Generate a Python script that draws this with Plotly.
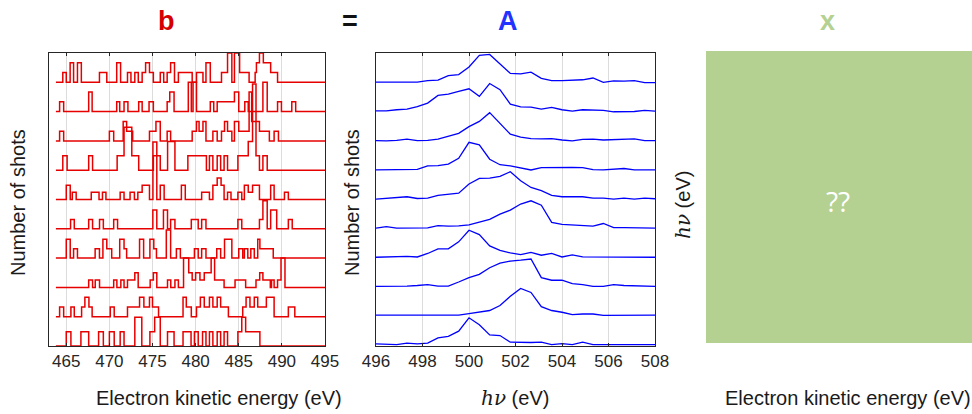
import plotly.graph_objects as go

# ---------------- data: left panel (single-shot spectra, step histograms) ----------------
# step edges (eV) and counts for each shot, row 0 = bottom
b_edges_0 = [463.8, 465.0, 465.54, 466.7, 467.6, 468.75, 469.3, 470.0, 470.56, 471.25, 471.7, 472.95, 473.76, 474.7, 475.25, 475.9, 476.74, 477.5, 478.54, 479.47, 479.86, 480.3, 480.8, 481.2, 481.6, 482.0, 482.5, 482.9, 483.3, 483.7, 484.9, 485.35, 485.8, 487.45]
b_counts_0 = [0, 1, 0, 1, 0, 1, 0, 1, 0, 1, 0, 2, 0, 1, 2, 0, 1, 0, 1, 0, 1, 0, 1, 0, 1, 0, 1, 0, 1, 0, 1, 2, 1, 0]

b_edges_1 = [463.8, 464.23, 464.7, 465.54, 465.93, 466.78, 467.16, 467.63, 468.0, 470.1, 470.56, 472.1, 473.5, 474.0, 474.65, 475.0, 475.7, 478.54, 478.92, 479.5, 480.1, 480.55, 481.0, 481.6, 482.0, 482.5, 482.9, 483.8, 485.46, 485.85, 486.3, 486.8, 487.2, 488.2, 489.1, 490.75, 491.5]
b_counts_1 = [0, 1, 0, 1, 0, 1, 2, 1, 0, 1, 0, 1, 2, 1, 2, 1, 0, 2, 1, 0, 1, 2, 1, 2, 1, 2, 1, 0, 1, 2, 1, 2, 1, 2, 0, 1, 0]

b_edges_2 = [463.8, 467.6, 468.05, 468.36, 468.86, 470.5, 470.87, 471.33, 471.7, 472.1, 472.95, 473.34, 474.73, 475.1, 475.5, 476.74, 477.12, 477.6, 478.0, 478.6, 479.2, 479.6, 480.0, 480.5, 481.0, 481.8, 482.2, 483.3, 484.57, 485.8, 487.0, 487.43, 487.8, 488.66, 488.8, 489.1, 489.5, 489.9, 490.36]
b_counts_2 = [0, 1, 0, 1, 0, 1, 0, 1, 0, 1, 2, 0, 1, 2, 0, 1, 0, 1, 0, 4, 2, 1, 2, 1, 2, 4, 1, 0, 1, 0, 1, 2, 1, 0, 1, 0, 1, 4, 0]

b_edges_3 = [463.8, 465.0, 465.46, 465.85, 466.3, 468.35, 468.85, 469.25, 469.7, 470.27, 471.2, 471.7, 472.0, 473.5, 473.97, 474.7, 475.15, 475.46, 476.6, 477.1, 477.77, 478.23, 479.86, 480.3, 480.7, 481.2, 482.45, 482.9, 483.35, 484.2, 485.0, 485.46, 485.65, 486.05, 486.4, 486.8, 487.2, 487.45, 489.0]
b_counts_3 = [0, 2, 0, 1, 0, 1, 0, 2, 1, 0, 2, 1, 0, 2, 0, 2, 1, 0, 3, 0, 1, 0, 1, 0, 1, 0, 1, 0, 2, 0, 1, 0, 1, 0, 1, 0, 2, 1, 0]

b_edges_4 = [463.8, 465.5, 465.93, 467.6, 468.05, 468.86, 469.3, 470.5, 470.95, 475.04, 475.5, 476.27, 476.74, 477.1, 477.6, 479.5, 480.3, 480.7, 481.2, 484.9, 485.35, 487.4, 487.8, 488.3, 488.7, 489.4, 490.75, 491.2]
b_counts_4 = [0, 1, 0, 1, 0, 1, 0, 1, 0, 2, 0, 2, 0, 1, 0, 1, 0, 1, 0, 1, 0, 1, 3, 0, 2, 0, 1, 0]

b_edges_5 = [463.8, 465.0, 465.46, 465.7, 466.15, 467.9, 468.8, 469.2, 469.6, 471.25, 471.7, 472.4, 472.9, 473.3, 473.8, 474.65, 475.05, 475.5, 475.9, 476.35, 478.35, 478.8, 480.7, 481.6, 482.0, 482.5, 482.95, 483.3, 483.7, 484.1, 484.9, 485.35, 485.65, 486.1, 486.6, 487.4, 488.7, 489.1, 490.3, 490.75]
b_counts_5 = [0, 2, 0, 1, 0, 1, 0, 1, 0, 1, 0, 1, 0, 1, 2, 0, 8, 0, 2, 0, 2, 0, 1, 0, 2, 3, 2, 0, 1, 0, 1, 0, 2, 1, 2, 0, 2, 0, 1, 0]

b_edges_6 = [463.8, 464.6, 465.1, 467.6, 468.05, 470.9, 471.7, 472.6, 473.4, 475.1, 475.9, 476.75, 477.6, 479.1, 481.25, 481.6, 482.0, 482.5, 482.9, 483.3, 483.7, 484.9, 486.1, 486.6, 487.0, 487.4, 487.8, 488.3]
b_counts_6 = [0, 1, 0, 1, 0, 1, 3, 1, 0, 1, 0, 2, 0, 1, 0, 1, 0, 1, 0, 1, 0, 1, 2, 6, 1, 0, 1, 0]

b_edges_7 = [463.8, 464.23, 464.7, 470.0, 470.5, 471.6, 472.0, 472.7, 474.65, 475.4, 475.9, 476.7, 477.1, 479.6, 480.1, 480.4, 480.85, 481.2, 482.0, 482.5, 483.0, 483.35, 483.7, 484.2, 484.5, 485.0, 486.2, 486.5, 487.4, 488.55, 489.1, 489.6]
b_counts_7 = [0, 1, 0, 1, 0, 2, 1, 0, 1, 2, 0, 1, 0, 1, 2, 1, 2, 0, 1, 0, 1, 2, 1, 0, 2, 1, 5, 2, 1, 0, 1, 0]

b_edges_8 = [463.8, 464.23, 464.7, 467.6, 468.0, 470.85, 471.2, 471.7, 472.15, 473.4, 473.8, 474.6, 475.1, 476.7, 477.0, 477.5, 479.15, 479.5, 479.7, 480.1, 481.7, 482.1, 482.5, 484.5, 485.0, 485.7, 486.1, 487.8, 488.3, 489.5, 489.95, 491.15, 491.6]
b_counts_8 = [0, 1, 0, 2, 0, 1, 0, 1, 0, 1, 0, 1, 0, 1, 2, 0, 3, 0, 3, 0, 1, 0, 1, 2, 0, 1, 0, 3, 0, 1, 0, 1, 0]

b_edges_9 = [463.8, 464.6, 465.0, 465.45, 465.85, 466.3, 466.75, 468.85, 469.7, 470.85, 471.3, 472.1, 472.5, 472.95, 473.35, 473.8, 474.2, 474.65, 475.1, 475.9, 476.3, 476.7, 477.1, 477.55, 478.0, 479.6, 480.1, 480.85, 481.2, 481.7, 483.0, 483.7, 484.2, 484.5, 485.1, 486.2, 486.9, 487.05, 487.4, 487.85, 488.7, 489.5]
b_counts_9 = [0, 1, 0, 2, 0, 2, 0, 1, 0, 2, 0, 1, 0, 1, 0, 1, 2, 1, 0, 1, 0, 1, 2, 0, 1, 0, 1, 0, 2, 0, 1, 3, 0, 3, 1, 0, 1, 2, 3, 2, 1, 0]

# per-shot normalisation (row heights per count)
b_norm = [0.49, 0.33, 0.25, 0.32, 0.32, 0.245, 0.49, 0.333, 0.333, 0.333]
ke_end = 495.0

b_edges = [b_edges_0, b_edges_1, b_edges_2, b_edges_3, b_edges_4,
           b_edges_5, b_edges_6, b_edges_7, b_edges_8, b_edges_9]
b_counts = [b_counts_0, b_counts_1, b_counts_2, b_counts_3, b_counts_4,
            b_counts_5, b_counts_6, b_counts_7, b_counts_8, b_counts_9]

# ---------------- data: middle panel (photon spectra) ----------------
hv = [496 + i * 12 / 27 for i in range(28)]
A_0 = [0.02, 0.00, 0.00, 0.05, 0.02, 0.05, 0.23, 0.28, 0.46, 0.92, 0.68, 0.33, 0.31, 0.08, 0.07, 0.07, 0.08, 0.00, 0.03, 0.00, 0.08, 0.00, 0.00, 0.00, 0.00, 0.00, 0.00, 0.00]
A_1 = [0.01, 0.01, 0.00, 0.00, 0.01, 0.01, 0.01, 0.01, 0.01, 0.06, 0.11, 0.17, 0.34, 0.66, 0.93, 0.79, 0.30, 0.17, 0.11, 0.03, 0.05, 0.05, 0.00, 0.00, 0.00, 0.00, 0.00, 0.01]
A_2 = [0.00, 0.00, 0.00, 0.01, 0.03, 0.06, 0.01, 0.01, 0.15, 0.30, 0.41, 0.64, 0.80, 0.87, 0.90, 0.94, 0.30, 0.21, 0.21, 0.09, 0.06, 0.00, 0.00, 0.06, 0.03, 0.02, 0.00, 0.00]
A_3 = [0.00, 0.01, 0.03, 0.03, 0.01, 0.13, 0.29, 0.29, 0.53, 0.93, 0.78, 0.39, 0.24, 0.15, 0.09, 0.17, 0.07, 0.13, 0.01, 0.08, 0.01, 0.01, 0.00, 0.00, 0.00, 0.00, 0.00, 0.00]
A_4 = [0.00, 0.05, 0.00, 0.00, 0.00, 0.01, 0.09, 0.07, 0.08, 0.11, 0.21, 0.30, 0.48, 0.62, 0.83, 0.94, 0.79, 0.20, 0.13, 0.11, 0.09, 0.07, 0.16, 0.02, 0.02, 0.02, 0.01, 0.00]
A_5 = [0.00, 0.02, 0.06, 0.08, 0.02, 0.03, 0.13, 0.16, 0.20, 0.52, 0.71, 0.72, 0.78, 0.94, 0.63, 0.40, 0.29, 0.13, 0.08, 0.08, 0.08, 0.03, 0.03, 0.00, 0.03, 0.00, 0.03, 0.01]
A_6 = [0.00, 0.00, 0.00, 0.00, 0.02, 0.14, 0.15, 0.20, 0.40, 0.95, 0.86, 0.37, 0.18, 0.14, 0.06, 0.00, 0.08, 0.09, 0.09, 0.09, 0.08, 0.01, 0.00, 0.02, 0.05, 0.00, 0.00, 0.00]
A_7 = [0.01, 0.00, 0.02, 0.06, 0.01, 0.02, 0.06, 0.15, 0.26, 0.49, 0.67, 0.97, 0.61, 0.23, 0.13, 0.08, 0.07, 0.08, 0.03, 0.00, 0.05, 0.06, 0.03, 0.05, 0.05, 0.07, 0.01, 0.01]
A_8 = [0.03, 0.03, 0.07, 0.09, 0.18, 0.30, 0.56, 0.61, 0.70, 0.79, 0.53, 0.97, 0.76, 0.26, 0.17, 0.16, 0.09, 0.15, 0.07, 0.02, 0.07, 0.06, 0.05, 0.00, 0.01, 0.01, 0.05, 0.02]
A_9 = [0.02, 0.02, 0.01, 0.01, 0.02, 0.07, 0.09, 0.24, 0.28, 0.54, 0.94, 0.97, 0.63, 0.32, 0.30, 0.36, 0.15, 0.07, 0.07, 0.09, 0.10, 0.16, 0.01, 0.06, 0.05, 0.07, 0.00, 0.00]
A_rows = [A_0, A_1, A_2, A_3, A_4, A_5, A_6, A_7, A_8, A_9]

ke_ticks = [465, 470, 475, 480, 485, 490, 495]
hv_ticks = [496, 498, 500, 502, 504, 506, 508]

# ---------------- figure ----------------
W, H = 972, 414
RED = "rgb(230,0,0)"
BLUE = "rgb(0,0,255)"
GREEN = "#b4d192"
FRAME = "#262626"
FONT = "Liberation Sans, Arial, sans-serif"

fig = go.Figure()

for r in range(10):
    xs = list(b_edges[r]) + [ke_end]
    ys = [r + c * b_norm[r] for c in b_counts[r]]
    ys = ys + [ys[-1]]
    fig.add_trace(go.Scatter(x=xs, y=ys, mode="lines", line_shape="hv",
                             line=dict(color=RED, width=1.5),
                             xaxis="x", yaxis="y", showlegend=False, hoverinfo="skip"))

for r in range(10):
    fig.add_trace(go.Scatter(x=hv, y=[r + v for v in A_rows[r]], mode="lines",
                             line=dict(color=BLUE, width=1.3),
                             xaxis="x2", yaxis="y2", showlegend=False, hoverinfo="skip"))

# placeholder trace for the empty third subplot
fig.add_trace(go.Scatter(x=[0, 1], y=[0, 1], mode="markers", marker=dict(opacity=0),
                         xaxis="x3", yaxis="y3", showlegend=False, hoverinfo="skip"))

def px(x):
    return x / W

def py(y):
    return 1 - y / H

ax_common = dict(showline=True, linecolor=FRAME, linewidth=1, mirror="ticks",
                 ticks="inside", ticklen=3, tickcolor=FRAME, zeroline=False,
                 automargin=False,
                 tickfont=dict(family=FONT, size=17, color="#262626"))
yax_common = dict(showticklabels=False, showgrid=False, showline=True, linecolor=FRAME,
                  mirror=True, zeroline=False, ticks="", automargin=False)

fig.update_layout(
    width=W, height=H, margin=dict(l=0, r=0, t=0, b=0, pad=0, autoexpand=False),
    paper_bgcolor="white", plot_bgcolor="rgba(0,0,0,0)",
    xaxis=dict(domain=[px(49), px(325)], range=[463, 495], tickvals=ke_ticks,
               showgrid=True, gridcolor="#dcdcdc", gridwidth=1, anchor="y", **ax_common),
    yaxis=dict(domain=[py(346), py(53)], range=[0, 10], anchor="x", **yax_common),
    xaxis2=dict(domain=[px(376), px(655)], range=[496, 508], tickvals=hv_ticks,
                showgrid=True, gridcolor="#dcdcdc", gridwidth=1, anchor="y2", **ax_common),
    yaxis2=dict(domain=[py(346), py(53)], range=[-0.05, 10.02], anchor="x2", **yax_common),
    xaxis3=dict(domain=[px(706), 1.0], range=[0, 1], visible=False, anchor="y3", automargin=False),
    yaxis3=dict(domain=[py(343), py(51)], range=[0, 1], visible=False, anchor="x3", automargin=False),
)

fig.add_shape(type="rect", xref="x3 domain", yref="y3 domain", x0=0, x1=1, y0=0, y1=1,
              fillcolor=GREEN, line=dict(width=0), layer="below")

def ann(text, x, y, size, color="#1a1a1a", angle=0, bold=False, family=FONT):
    fig.add_annotation(text=("<b>%s</b>" % text) if bold else text,
                       xref="paper", yref="paper", x=px(x), y=py(y),
                       xanchor="center", yanchor="middle", showarrow=False,
                       textangle=angle, font=dict(family=family, size=size, color=color))

# panel headers
ann("b", 166, 21, 27, color="#d40000", bold=True)
ann("=", 350, 21, 27, color="#111111", bold=True)
ann("A", 508, 21, 27, color="#2233ff", bold=True)
ann("x", 827, 21, 27, color=GREEN, bold=True)

hv_lbl = '<span style="font-family:DejaVu Serif"><i>hν</i></span> (eV)'

# axis titles
ann("Electron kinetic energy (eV)", 219, 398, 20)
ann(hv_lbl, 515, 398, 20)
ann("Electron kinetic energy (eV)", 848, 398, 20)
ann("Number of shots", 18, 203, 20, angle=-90)
ann("Number of shots", 352, 203, 20, angle=-90)
ann(hv_lbl, 683, 205, 20, angle=-90)
ann("??", 838, 201, 28, color="white", family="Open Sans, sans-serif")

fig.write_html("out.html", post_script="document.body.style.margin='0';document.body.style.overflow='hidden';")
